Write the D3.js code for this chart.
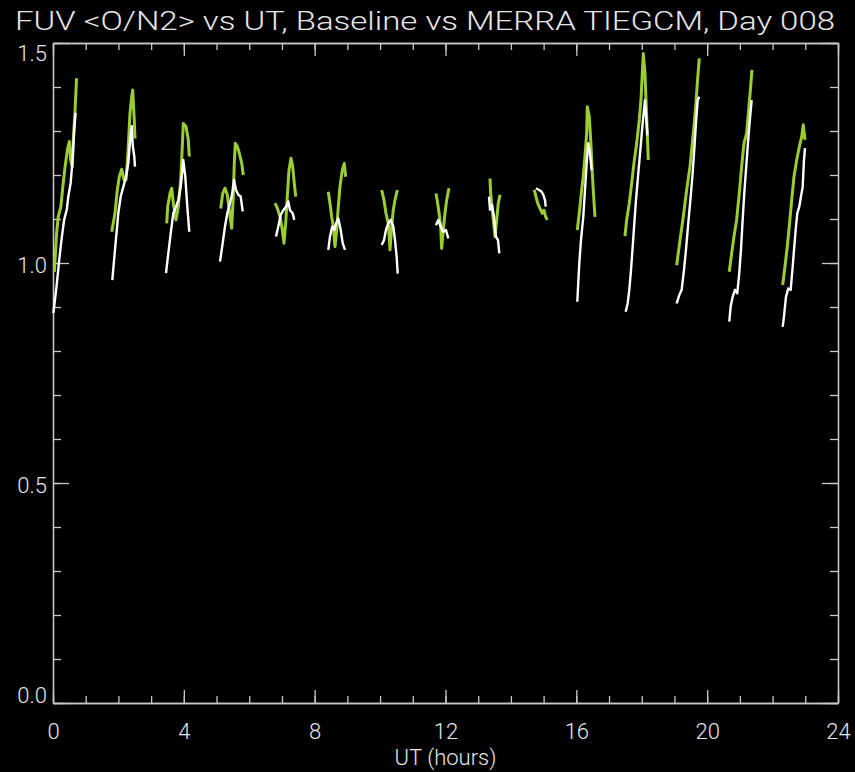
<!DOCTYPE html>
<html>
<head>
<meta charset="utf-8">
<script src="https://cdn.jsdelivr.net/npm/d3@7"></script>
<style>
  html, body { margin: 0; padding: 0; background: #000; }
  text { font-family: Roboto, "DejaVu Sans", sans-serif; font-weight: 300; fill: #e6e6e6; }
</style>
</head>
<body>
<div class="chart"></div>
<script>
// FUV <O/N2> vs UT, one segment per orbit

var xTicks = [0, 4, 8, 12, 16, 20, 24];
var yTicks = [0.0, 0.5, 1.0, 1.5];

// MERRA run (green) - [UT hours, O/N2]
var merraOrbits = [
  [[0.04,0.980],[0.11,1.068],[0.16,1.105],[0.24,1.128],[0.30,1.173],[0.37,1.219],[0.44,1.257],[0.50,1.276],[0.54,1.234],[0.59,1.219],[0.62,1.280],[0.67,1.340],[0.72,1.420]],
  [[1.795,1.071],[1.895,1.113],[1.966,1.166],[2.027,1.196],[2.100,1.213],[2.171,1.189],[2.232,1.189],[2.271,1.227],[2.302,1.265],[2.354,1.340],[2.406,1.378],[2.437,1.393],[2.485,1.325],[2.507,1.283]],
  [[3.476,1.090],[3.507,1.128],[3.577,1.158],[3.629,1.170],[3.678,1.136],[3.760,1.098],[3.831,1.128],[3.904,1.189],[3.953,1.265],[3.984,1.317],[4.066,1.310],[4.136,1.280],[4.167,1.242]],
  [[5.127,1.124],[5.188,1.158],[5.258,1.170],[5.329,1.155],[5.390,1.120],[5.463,1.079],[5.512,1.151],[5.543,1.227],[5.573,1.272],[5.634,1.265],[5.695,1.250],[5.769,1.227],[5.818,1.200]],
  [[6.787,1.136],[6.857,1.125],[6.940,1.106],[7.010,1.076],[7.062,1.045],[7.114,1.091],[7.163,1.151],[7.215,1.211],[7.276,1.238],[7.328,1.219],[7.377,1.181],[7.420,1.151]],
  [[8.416,1.162],[8.468,1.136],[8.520,1.105],[8.572,1.083],[8.621,1.037],[8.673,1.075],[8.722,1.128],[8.774,1.174],[8.844,1.211],[8.905,1.226],[8.948,1.196]],
  [[10.049,1.166],[10.119,1.143],[10.180,1.113],[10.251,1.090],[10.281,1.060],[10.303,1.030],[10.355,1.083],[10.404,1.121],[10.456,1.143],[10.526,1.166]],
  [[11.709,1.158],[11.761,1.136],[11.810,1.109],[11.853,1.083],[11.883,1.033],[11.932,1.075],[11.984,1.113],[12.036,1.143],[12.106,1.170]],
  [[13.360,1.192],[13.381,1.158],[13.421,1.128],[13.461,1.098],[13.513,1.060],[13.565,1.098],[13.614,1.136],[13.666,1.155]],
  [[14.714,1.166],[14.766,1.151],[14.818,1.136],[14.888,1.124],[14.959,1.113],[15.011,1.120],[15.063,1.105],[15.112,1.098]],
  [[16.029,1.075],[16.090,1.113],[16.163,1.166],[16.212,1.197],[16.264,1.242],[16.316,1.295],[16.335,1.355],[16.396,1.333],[16.439,1.280],[16.478,1.219],[16.518,1.166],[16.570,1.105]],
  [[17.487,1.061],[17.539,1.098],[17.619,1.136],[17.692,1.181],[17.762,1.227],[17.845,1.272],[17.924,1.325],[17.976,1.370],[18.016,1.430],[18.047,1.476],[18.099,1.431],[18.151,1.330],[18.200,1.234]],
  [[19.068,0.995],[19.169,1.052],[19.270,1.105],[19.373,1.166],[19.474,1.219],[19.556,1.280],[19.605,1.317],[19.657,1.363],[19.700,1.410],[19.759,1.465]],
  [[20.676,0.980],[20.749,1.022],[20.819,1.060],[20.901,1.098],[20.981,1.158],[21.054,1.219],[21.125,1.272],[21.207,1.295],[21.268,1.348],[21.330,1.401],[21.369,1.439]],
  [[22.308,0.950],[22.379,0.992],[22.449,1.037],[22.510,1.083],[22.584,1.143],[22.654,1.196],[22.737,1.234],[22.816,1.264],[22.890,1.287],[22.938,1.314],[22.990,1.280]]
];

// Baseline run (white) - [UT hours, O/N2]
var baselineOrbits = [
  [[0.01,0.886],[0.06,0.916],[0.11,0.948],[0.19,1.007],[0.26,1.053],[0.34,1.098],[0.42,1.121],[0.47,1.152],[0.54,1.182],[0.59,1.227],[0.65,1.303],[0.69,1.341]],
  [[1.813,0.961],[1.895,1.030],[1.996,1.113],[2.070,1.151],[2.149,1.173],[2.232,1.196],[2.302,1.227],[2.354,1.277],[2.406,1.311],[2.437,1.268],[2.485,1.242],[2.507,1.219]],
  [[3.455,0.977],[3.525,1.022],[3.598,1.067],[3.678,1.113],[3.760,1.128],[3.831,1.143],[3.904,1.173],[3.984,1.234],[4.045,1.196],[4.106,1.128],[4.167,1.071]],
  [[5.105,1.003],[5.188,1.045],[5.258,1.083],[5.329,1.113],[5.411,1.136],[5.472,1.155],[5.533,1.189],[5.595,1.166],[5.665,1.155],[5.739,1.151],[5.800,1.117]],
  [[6.818,1.060],[6.888,1.083],[6.961,1.109],[7.041,1.120],[7.123,1.128],[7.194,1.140],[7.246,1.120],[7.328,1.113],[7.377,1.098]],
  [[8.416,1.030],[8.468,1.060],[8.539,1.083],[8.600,1.075],[8.652,1.090],[8.722,1.101],[8.796,1.075],[8.857,1.045],[8.927,1.030]],
  [[10.049,1.041],[10.119,1.052],[10.180,1.075],[10.251,1.090],[10.324,1.098],[10.404,1.083],[10.456,1.052],[10.507,1.014],[10.538,0.976]],
  [[11.709,1.086],[11.779,1.098],[11.853,1.083],[11.932,1.071],[12.014,1.075],[12.085,1.056]],
  [[13.330,1.151],[13.360,1.121],[13.421,1.132],[13.482,1.105],[13.543,1.060],[13.605,1.052],[13.645,1.022]],
  [[14.766,1.170],[14.837,1.167],[14.940,1.162],[14.990,1.155],[15.042,1.143],[15.063,1.128]],
  [[16.029,0.912],[16.090,0.999],[16.142,1.052],[16.212,1.105],[16.264,1.166],[16.316,1.227],[16.365,1.272],[16.417,1.249],[16.469,1.211]],
  [[17.508,0.889],[17.570,0.908],[17.619,0.939],[17.671,0.984],[17.723,1.037],[17.772,1.090],[17.824,1.143],[17.894,1.204],[17.967,1.265],[18.028,1.318],[18.099,1.370],[18.145,1.320],[18.175,1.290]],
  [[19.068,0.908],[19.147,0.927],[19.220,0.939],[19.291,0.984],[19.352,1.030],[19.422,1.090],[19.496,1.151],[19.556,1.204],[19.605,1.257],[19.657,1.318],[19.710,1.370],[19.759,1.378]],
  [[20.676,0.867],[20.718,0.901],[20.779,0.923],[20.850,0.939],[20.920,0.931],[20.981,0.977],[21.033,1.030],[21.085,1.098],[21.134,1.158],[21.186,1.211],[21.238,1.264],[21.287,1.310],[21.360,1.370]],
  [[22.308,0.855],[22.348,0.878],[22.409,0.923],[22.479,0.942],[22.553,0.939],[22.615,0.992],[22.663,1.037],[22.715,1.083],[22.755,1.113],[22.816,1.128],[22.868,1.151],[22.920,1.173],[22.960,1.234],[22.990,1.261]]
];

//Set size and margins

var svgwidth = 855;
var svgheight = 772;

var margin = {
    top: 43,
    right: 17,
    bottom: 69,
    left: 53
};

var width = svgwidth - margin.left - margin.right;
var height = svgheight - margin.top - margin.bottom;

var axisColor = "#c8c8c8";

var svg = d3.select(".chart")
            .append("svg")
            .attr("width", svgwidth)
            .attr("height", svgheight)
            .style("background", "#000");

var chartGroup = svg.append("g")
            .attr("transform", `translate(${margin.left}, ${margin.top})`);

//Scales
var xScale = d3.scaleLinear().domain([0, 24]).range([0, width]);
var yScale = d3.scaleLinear().domain([0, 1.5]).range([height, 0]);

var minorX = d3.range(0, 25, 1);
var minorY = d3.range(0, 16, 1).map(d => d / 10);

// draw one inward-facing axis, IDL style (major + minor ticks)
function drawAxis(axisGen, ticks, size, transform, withLabels) {
    var g = chartGroup.append("g")
        .attr("transform", transform)
        .call(axisGen.tickValues(ticks).tickSize(size).tickSizeOuter(0)
              .tickFormat(withLabels ? null : ""));
    g.select(".domain").attr("stroke", axisColor).attr("stroke-width", 1.3);
    g.selectAll(".tick line").attr("stroke", axisColor).attr("stroke-width", 1.3);
    return g;
}

// minor ticks first
drawAxis(d3.axisTop(xScale), minorX, 7, `translate(0, ${height})`, false);
drawAxis(d3.axisBottom(xScale), minorX, 7, "translate(0, 0)", false);
drawAxis(d3.axisRight(yScale), minorY, 8, "translate(0, 0)", false);
drawAxis(d3.axisLeft(yScale), minorY, 8, `translate(${width}, 0)`, false);

// major ticks
drawAxis(d3.axisBottom(xScale), xTicks, 13, "translate(0, 0)", false);
drawAxis(d3.axisLeft(yScale), yTicks, 16, `translate(${width}, 0)`, false);

var xAxisG = drawAxis(d3.axisTop(xScale).tickFormat(d3.format("d")), xTicks, 13, `translate(0, ${height})`, true);
xAxisG.selectAll(".tick text")
    .attr("y", 36)
    .attr("dy", "0")
    .attr("font-size", "22px")
    .attr("fill", "#e6e6e6");

var yAxisG = drawAxis(d3.axisRight(yScale).tickFormat(d3.format(".1f")), yTicks, 16, "translate(0, 0)", true);
yAxisG.selectAll(".tick text")
    .attr("x", -6)
    .attr("text-anchor", "end")
    .attr("font-size", "22px")
    .attr("fill", "#e6e6e6")
    .attr("dy", function(d) {
        if (d === 1.5) return "17px";
        if (d === 0) return "-1px";
        return "9px";
    });
svg.selectAll(".tick text").attr("font-family", null);

//Lines
var line = d3.line()
    .x(d => xScale(d[0]))
    .y(d => yScale(d[1]));

chartGroup.selectAll(".merra")
    .data(merraOrbits)
    .enter()
    .append("path")
    .attr("class", "merra")
    .attr("d", line)
    .attr("fill", "none")
    .attr("stroke", "#9acd32")
    .attr("stroke-width", 3)
    .attr("stroke-linejoin", "round");

chartGroup.selectAll(".baseline")
    .data(baselineOrbits)
    .enter()
    .append("path")
    .attr("class", "baseline")
    .attr("d", line)
    .attr("fill", "none")
    .attr("stroke", "#ffffff")
    .attr("stroke-width", 2.4)
    .attr("stroke-linejoin", "round");

//Titles
svg.append("text")
    .attr("x", 15)
    .attr("y", 30)
    .attr("font-size", "25px")
    .attr("textLength", 820)
    .attr("lengthAdjust", "spacingAndGlyphs")
    .text("FUV <O/N2> vs UT, Baseline vs MERRA TIEGCM, Day 008");

svg.append("text")
    .attr("x", margin.left + width / 2)
    .attr("y", 765)
    .attr("text-anchor", "middle")
    .attr("font-size", "22px")
    .text("UT (hours)");
</script>
</body>
</html>
